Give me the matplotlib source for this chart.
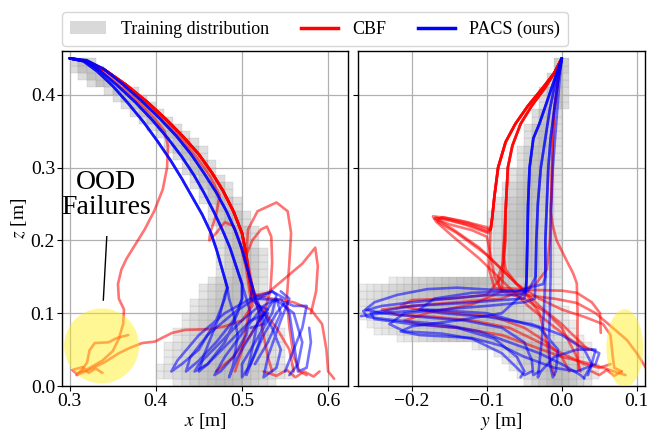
import numpy as np
import matplotlib
matplotlib.use("Agg")
import matplotlib.pyplot as plt
from matplotlib.patches import Ellipse, Patch, Rectangle
from matplotlib.collections import PatchCollection
from matplotlib.lines import Line2D

plt.rcParams['font.family'] = ['Liberation Serif', 'DejaVu Serif']
plt.rcParams['mathtext.fontset'] = 'stix'

# ---------------- data ----------------
legend_labels = ["Training distribution", "CBF", "PACS (ours)"]
x_ticks = [0.3, 0.4, 0.5, 0.6]
y_ticks = [-0.2, -0.1, 0.0, 0.1]
z_ticks = [0.0, 0.1, 0.2, 0.3, 0.4]
cell = 0.01
z_rows = [round(k * 0.01, 2) for k in range(45)]  # lower edge of each z row

# training distribution occupancy (x-range per z row), left panel
left_band_lo = [0.42, 0.40, 0.40, 0.41, 0.41, 0.41, 0.42, 0.42, 0.43, 0.43,
                0.44, 0.44, 0.45, 0.45, 0.46, 0.47, 0.47, 0.47, 0.47, 0.47,
                0.47, 0.47, 0.46, 0.46, 0.46, 0.45, 0.45, 0.44, 0.44, 0.43,
                0.43, 0.42, 0.41, 0.41, 0.40, 0.39, 0.38, 0.37, 0.36, 0.35,
                0.34, 0.32, 0.31, 0.30, 0.30]
left_band_hi = [0.54, 0.56, 0.56, 0.55, 0.55, 0.55, 0.55, 0.55, 0.54, 0.54,
                0.54, 0.54, 0.53, 0.53, 0.53, 0.53, 0.53, 0.53, 0.53, 0.52,
                0.52, 0.52, 0.51, 0.51, 0.50, 0.50, 0.49, 0.49, 0.48, 0.47,
                0.47, 0.46, 0.46, 0.45, 0.44, 0.43, 0.42, 0.41, 0.40, 0.39,
                0.38, 0.36, 0.35, 0.34, 0.33]
# right panel (y-range per z row)
right_band_lo = [-0.05, -0.06, -0.07, -0.08, -0.09, -0.12, -0.22, -0.25, -0.26, -0.27,
                 -0.28, -0.28, -0.28, -0.27, -0.23, -0.10, -0.10, -0.10, -0.10, -0.10,
                 -0.10, -0.10, -0.10, -0.10, -0.09, -0.09, -0.08, -0.08, -0.07, -0.07,
                 -0.06, -0.06, -0.06, -0.05, -0.05, -0.05, -0.04, -0.04, -0.03, -0.03,
                 -0.03, -0.02, -0.02, -0.01, -0.01]
right_band_hi = [0.04, 0.05, 0.05, 0.04, 0.04, 0.04, 0.03, 0.02, 0.02, 0.01,
                 0.01, 0.00, 0.00, 0.00, 0.00, 0.00, 0.00, 0.00, 0.00, 0.00,
                 0.00, 0.00, 0.00, 0.00, 0.00, 0.00, 0.00, 0.00, 0.00, 0.00,
                 0.00, 0.00, 0.00, 0.00, 0.00, 0.00, 0.00, 0.00, 0.01, 0.01,
                 0.01, 0.01, 0.01, 0.01, 0.01]

# ---- PACS trajectories, x-z plane ----
pacs_xz_top_a = [(0.300, 0.450), (0.318, 0.446), (0.335, 0.433), (0.355, 0.413), (0.376, 0.390),
                 (0.396, 0.365), (0.414, 0.340), (0.430, 0.315), (0.444, 0.290), (0.456, 0.265),
                 (0.467, 0.240), (0.477, 0.215), (0.486, 0.190), (0.493, 0.165), (0.500, 0.140)]
pacs_xz_top_b = [(0.300, 0.450), (0.316, 0.446), (0.332, 0.432), (0.350, 0.412), (0.368, 0.388),
                 (0.386, 0.362), (0.402, 0.336), (0.417, 0.310), (0.430, 0.285), (0.442, 0.260),
                 (0.454, 0.235), (0.464, 0.210), (0.471, 0.185), (0.477, 0.160), (0.483, 0.135)]
pacs_xz_top_c = [(0.300, 0.450), (0.320, 0.447), (0.340, 0.435), (0.360, 0.416), (0.382, 0.393),
                 (0.404, 0.368), (0.424, 0.343), (0.441, 0.318), (0.456, 0.292), (0.470, 0.266),
                 (0.482, 0.240), (0.492, 0.214), (0.500, 0.188), (0.506, 0.162), (0.512, 0.136)]
pacs_xz_ends = [
    ("a", [(0.505, 0.120), (0.510, 0.100), (0.505, 0.070), (0.490, 0.040), (0.475, 0.020), (0.468, 0.015),
           (0.480, 0.040), (0.505, 0.080), (0.525, 0.110), (0.540, 0.120), (0.545, 0.100), (0.530, 0.060), (0.515, 0.030)]),
    ("b", [(0.480, 0.120), (0.470, 0.090), (0.450, 0.050), (0.430, 0.030), (0.418, 0.020), (0.425, 0.035),
           (0.450, 0.070), (0.480, 0.100), (0.510, 0.120), (0.535, 0.130), (0.550, 0.120)]),
    ("c", [(0.515, 0.120), (0.520, 0.100), (0.515, 0.070), (0.510, 0.040), (0.505, 0.015), (0.510, 0.030),
           (0.525, 0.070), (0.540, 0.100), (0.550, 0.115), (0.560, 0.110), (0.575, 0.110), (0.570, 0.080),
           (0.560, 0.050), (0.550, 0.020)]),
    ("a", [(0.500, 0.120), (0.495, 0.100), (0.480, 0.060), (0.460, 0.030), (0.445, 0.020), (0.450, 0.030),
           (0.475, 0.060), (0.500, 0.090), (0.520, 0.110), (0.530, 0.105), (0.520, 0.090)]),
    ("b", [(0.485, 0.120), (0.490, 0.100), (0.495, 0.070), (0.490, 0.030), (0.485, 0.012), (0.495, 0.040),
           (0.515, 0.080), (0.535, 0.115), (0.545, 0.120), (0.555, 0.100), (0.560, 0.060), (0.565, 0.020),
           (0.575, 0.025), (0.580, 0.060), (0.578, 0.080)]),
    ("c", [(0.510, 0.120), (0.520, 0.110), (0.525, 0.090), (0.520, 0.060), (0.510, 0.030), (0.500, 0.012),
           (0.500, 0.030), (0.520, 0.070), (0.535, 0.100), (0.540, 0.125), (0.535, 0.130), (0.520, 0.120)]),
    ("a", [(0.500, 0.120), (0.490, 0.090), (0.470, 0.060), (0.450, 0.035), (0.435, 0.020), (0.440, 0.040),
           (0.460, 0.070), (0.490, 0.100), (0.515, 0.120), (0.540, 0.118), (0.560, 0.100), (0.570, 0.060),
           (0.565, 0.030), (0.555, 0.015)]),
    ("b", [(0.480, 0.125), (0.475, 0.100), (0.465, 0.070), (0.455, 0.040), (0.450, 0.020), (0.460, 0.030),
           (0.485, 0.060), (0.510, 0.090), (0.530, 0.100), (0.525, 0.085), (0.510, 0.080)]),
    ("c", [(0.520, 0.110), (0.535, 0.080), (0.545, 0.050), (0.540, 0.025), (0.525, 0.012), (0.530, 0.040),
           (0.545, 0.090), (0.555, 0.120), (0.545, 0.130)]),
]

# ---- CBF trajectories, x-z plane ----
cbf_xz_top_a = [(0.300, 0.450), (0.320, 0.446), (0.342, 0.433), (0.365, 0.414), (0.390, 0.390),
                (0.412, 0.366), (0.432, 0.342), (0.450, 0.318), (0.465, 0.293), (0.478, 0.268),
                (0.490, 0.240), (0.500, 0.210), (0.505, 0.180)]
cbf_xz_top_b = [(0.300, 0.450), (0.318, 0.446), (0.336, 0.433), (0.358, 0.413), (0.380, 0.390),
                (0.398, 0.368), (0.410, 0.350)]
cbf_xz_ends = [
    ("a", [(0.510, 0.150), (0.515, 0.120), (0.520, 0.100), (0.525, 0.070), (0.530, 0.040), (0.535, 0.020)]),
    ("b", [(0.414, 0.330), (0.413, 0.300), (0.408, 0.270), (0.398, 0.240), (0.387, 0.215), (0.376, 0.194),
           (0.366, 0.175), (0.360, 0.160), (0.356, 0.140), (0.357, 0.120), (0.363, 0.105), (0.362, 0.085),
           (0.357, 0.065), (0.350, 0.048), (0.338, 0.035), (0.322, 0.024), (0.308, 0.017), (0.303, 0.022),
           (0.315, 0.026), (0.322, 0.018), (0.330, 0.024), (0.338, 0.018)]),
    ("a", [(0.510, 0.140), (0.512, 0.110), (0.500, 0.090), (0.480, 0.082), (0.462, 0.078), (0.434, 0.077),
           (0.419, 0.073), (0.407, 0.066), (0.399, 0.061), (0.384, 0.059), (0.369, 0.052), (0.357, 0.045),
           (0.341, 0.033), (0.322, 0.022), (0.308, 0.015), (0.314, 0.022), (0.320, 0.032), (0.323, 0.049),
           (0.329, 0.059), (0.345, 0.060), (0.355, 0.066), (0.368, 0.070)]),
    ("a", [(0.507, 0.215), (0.518, 0.240), (0.540, 0.252), (0.553, 0.240), (0.557, 0.210), (0.555, 0.170),
           (0.552, 0.120), (0.555, 0.080), (0.560, 0.040), (0.567, 0.020), (0.575, 0.015)]),
    ("a", [(0.512, 0.200), (0.522, 0.215), (0.529, 0.219), (0.534, 0.205), (0.535, 0.170), (0.533, 0.130),
           (0.525, 0.100), (0.510, 0.070), (0.490, 0.040), (0.470, 0.020)]),
    ("a", [(0.508, 0.150), (0.512, 0.125), (0.535, 0.120), (0.560, 0.115), (0.580, 0.105), (0.593, 0.085),
           (0.598, 0.050), (0.600, 0.020), (0.607, 0.010)]),
    ("a", [(0.508, 0.150), (0.515, 0.125), (0.530, 0.128), (0.550, 0.148), (0.570, 0.168), (0.585, 0.190),
           (0.588, 0.165), (0.586, 0.130), (0.580, 0.100)]),
    ("a", [(0.510, 0.130), (0.520, 0.110), (0.540, 0.080), (0.555, 0.050), (0.560, 0.020)]),
]
cbf_xz_extra = [
    [(0.300, 0.450), (0.320, 0.446), (0.340, 0.434), (0.362, 0.414), (0.386, 0.390), (0.408, 0.366),
     (0.428, 0.342), (0.446, 0.316), (0.462, 0.290), (0.474, 0.262), (0.470, 0.235), (0.463, 0.210),
     (0.462, 0.200), (0.470, 0.210), (0.480, 0.225), (0.490, 0.220), (0.498, 0.195), (0.505, 0.160),
     (0.510, 0.120), (0.505, 0.080), (0.500, 0.050), (0.492, 0.020)],
    [(0.525, 0.020), (0.540, 0.014), (0.552, 0.022), (0.562, 0.012), (0.572, 0.020), (0.583, 0.013),
     (0.590, 0.020)],
]

# ---- PACS trajectories, y-z plane ----
pacs_yz_tops = {
    1: [(0.000, 0.450), (-0.010, 0.420), (-0.020, 0.390), (-0.030, 0.360), (-0.038, 0.340), (-0.043, 0.300),
        (-0.045, 0.250), (-0.046, 0.200), (-0.047, 0.150), (-0.048, 0.130)],
    2: [(0.000, 0.450), (-0.008, 0.420), (-0.016, 0.380), (-0.022, 0.340), (-0.028, 0.300), (-0.032, 0.250),
        (-0.034, 0.200), (-0.035, 0.150)],
    3: [(0.000, 0.450), (-0.005, 0.420), (-0.010, 0.380), (-0.015, 0.340), (-0.018, 0.300), (-0.020, 0.250),
        (-0.022, 0.200), (-0.022, 0.150)],
    4: [(0.000, 0.450), (-0.003, 0.420), (-0.006, 0.380), (-0.009, 0.340), (-0.012, 0.300), (-0.014, 0.250),
        (-0.015, 0.200), (-0.015, 0.150)],
}
pacs_yz_ends = [
    (1, [(-0.060, 0.125), (-0.100, 0.125), (-0.150, 0.120), (-0.200, 0.115), (-0.240, 0.110), (-0.265, 0.103),
         (-0.260, 0.095), (-0.220, 0.090), (-0.160, 0.085), (-0.110, 0.075), (-0.070, 0.060), (-0.030, 0.045),
         (0.000, 0.030), (0.025, 0.015), (0.030, 0.010)]),
    (2, [(-0.045, 0.130), (-0.090, 0.132), (-0.140, 0.135), (-0.180, 0.133), (-0.220, 0.125), (-0.250, 0.115),
         (-0.262, 0.105), (-0.240, 0.100), (-0.190, 0.095), (-0.130, 0.090), (-0.080, 0.080), (-0.050, 0.060),
         (-0.040, 0.035), (-0.038, 0.015), (-0.030, 0.020)]),
    (3, [(-0.024, 0.100), (-0.027, 0.060), (-0.030, 0.030), (-0.032, 0.012), (-0.028, 0.020), (-0.010, 0.040),
         (0.020, 0.050), (0.045, 0.050), (0.040, 0.030), (0.030, 0.012)]),
    (4, [(-0.016, 0.100), (-0.017, 0.060), (-0.016, 0.030), (-0.012, 0.012), (-0.008, 0.020), (-0.005, 0.050),
         (-0.030, 0.080), (-0.100, 0.100), (-0.180, 0.105), (-0.240, 0.100), (-0.268, 0.096)]),
    (2, [(-0.036, 0.120), (-0.050, 0.115), (-0.100, 0.110), (-0.160, 0.105), (-0.210, 0.100), (-0.230, 0.085),
         (-0.210, 0.075), (-0.160, 0.072), (-0.120, 0.065), (-0.080, 0.045), (-0.060, 0.025), (-0.050, 0.015),
         (-0.040, 0.020)]),
    (1, [(-0.050, 0.120), (-0.080, 0.118), (-0.130, 0.114), (-0.200, 0.110), (-0.255, 0.100), (-0.250, 0.092),
         (-0.200, 0.085), (-0.140, 0.080), (-0.090, 0.065), (-0.060, 0.040), (-0.050, 0.020), (-0.055, 0.012)]),
    (3, [(-0.025, 0.140), (-0.060, 0.130), (-0.120, 0.128), (-0.170, 0.120), (-0.190, 0.105), (-0.160, 0.100),
         (-0.100, 0.095), (-0.040, 0.085), (0.000, 0.070), (0.030, 0.050), (0.040, 0.030), (0.035, 0.015)]),
    (1, [(-0.080, 0.100), (-0.140, 0.090), (-0.200, 0.082), (-0.215, 0.075), (-0.190, 0.070), (-0.120, 0.066),
         (-0.080, 0.055), (-0.050, 0.040), (-0.010, 0.025), (0.020, 0.020), (0.045, 0.030), (0.050, 0.045),
         (0.040, 0.050)]),
]

# ---- CBF trajectories, y-z plane ----
cbf_yz_tops = {
    "a": [(0.000, 0.450), (-0.010, 0.430), (-0.025, 0.410), (-0.045, 0.385), (-0.062, 0.360), (-0.075, 0.335),
          (-0.085, 0.300), (-0.090, 0.260), (-0.093, 0.230), (-0.095, 0.215)],
    "b": [(0.000, 0.450), (-0.010, 0.430), (-0.022, 0.410), (-0.040, 0.385), (-0.055, 0.360), (-0.066, 0.330),
          (-0.072, 0.300), (-0.074, 0.260), (-0.075, 0.240)],
    "c": [(0.000, 0.450), (-0.005, 0.420), (-0.010, 0.380), (-0.012, 0.340), (-0.013, 0.300), (-0.014, 0.260),
          (-0.015, 0.240)],
}
cbf_yz_ends = [
    ("a", [(-0.100, 0.212), (-0.120, 0.220), (-0.150, 0.228), (-0.168, 0.231), (-0.165, 0.225), (-0.140, 0.210),
           (-0.100, 0.180), (-0.060, 0.140), (-0.030, 0.110), (0.000, 0.085), (0.020, 0.065), (0.035, 0.050)]),
    ("a", [(-0.100, 0.215), (-0.125, 0.224), (-0.155, 0.231), (-0.172, 0.233), (-0.168, 0.226), (-0.145, 0.205),
           (-0.110, 0.175), (-0.075, 0.140), (-0.045, 0.110), (-0.015, 0.085), (0.010, 0.065), (0.025, 0.055),
           (0.040, 0.050)]),
    ("a", [(-0.098, 0.210), (-0.130, 0.222), (-0.160, 0.230), (-0.170, 0.230), (-0.150, 0.222), (-0.120, 0.214),
           (-0.100, 0.205), (-0.095, 0.180), (-0.090, 0.150), (-0.080, 0.130), (-0.050, 0.120), (-0.020, 0.100),
           (0.000, 0.080), (0.010, 0.060), (0.020, 0.040), (0.025, 0.020)]),
    ("c", [(-0.012, 0.220), (-0.007, 0.200), (0.006, 0.173), (0.015, 0.155), (0.020, 0.141), (0.021, 0.100),
           (0.021, 0.060), (0.022, 0.022)]),
    ("b", [(-0.075, 0.200), (-0.078, 0.170), (-0.085, 0.150), (-0.083, 0.135), (-0.040, 0.132), (0.000, 0.131),
           (0.020, 0.128), (0.040, 0.115), (0.051, 0.100), (0.052, 0.073)]),
    ("a", [(-0.096, 0.190), (-0.097, 0.160), (-0.090, 0.135), (-0.050, 0.125), (-0.010, 0.120), (0.020, 0.114),
           (0.045, 0.100), (0.060, 0.087), (0.087, 0.063), (0.100, 0.045), (0.108, 0.032), (0.112, 0.025)]),
    ("b", [(-0.076, 0.210), (-0.078, 0.180), (-0.075, 0.160), (-0.060, 0.140), (-0.030, 0.120), (0.000, 0.105),
           (0.030, 0.095), (0.055, 0.085), (0.065, 0.070), (0.068, 0.040), (0.070, 0.025), (0.080, 0.020)]),
    ("c", [(-0.016, 0.200), (-0.020, 0.160), (-0.035, 0.140), (-0.080, 0.120), (-0.140, 0.115), (-0.200, 0.110),
           (-0.240, 0.105), (-0.220, 0.098), (-0.170, 0.095), (-0.120, 0.090), (-0.070, 0.080), (-0.030, 0.060),
           (0.000, 0.045), (0.030, 0.030), (0.050, 0.025), (0.065, 0.030)]),
    ("b", [(-0.076, 0.200), (-0.078, 0.160), (-0.080, 0.130), (-0.120, 0.112), (-0.180, 0.100), (-0.210, 0.090),
           (-0.190, 0.085), (-0.140, 0.080), (-0.080, 0.070), (-0.040, 0.055), (0.000, 0.040), (0.040, 0.030),
           (0.070, 0.020), (0.085, 0.015)]),
    ("a", [(-0.100, 0.218), (-0.130, 0.226), (-0.160, 0.232), (-0.165, 0.228), (-0.145, 0.215), (-0.110, 0.190),
           (-0.080, 0.160), (-0.050, 0.130), (-0.030, 0.100), (-0.020, 0.060), (-0.015, 0.030), (-0.010, 0.015)]),
    ("b", [(-0.078, 0.190), (-0.080, 0.150), (-0.100, 0.125), (-0.150, 0.120), (-0.200, 0.118), (-0.215, 0.110),
           (-0.190, 0.105), (-0.140, 0.100), (-0.090, 0.095), (-0.050, 0.080), (-0.020, 0.060), (0.000, 0.040),
           (0.010, 0.020)]),
]
cbf_yz_extra = [
    [(0.040, 0.020), (0.050, 0.015), (0.060, 0.022), (0.070, 0.014), (0.080, 0.020)],
]

# OOD highlight regions (center, width, height) and annotation
ood_left = ((0.337, 0.055), 0.087, 0.103)
ood_right = ((0.084, 0.052), 0.049, 0.107)
ood_text = "OOD\nFailures"
ood_text_pos = (0.342, 0.262)
ood_line = [(0.343, 0.205), (0.339, 0.118)]

# ---------------- plotting ----------------
RED = "#ff0000"
BLUE = "#0000ff"
LW = 1.9
ALPHA = 0.55

fig = plt.figure(figsize=(6.47, 4.30), dpi=100)
axL = fig.add_axes([0.0958, 0.1023, 0.442, 0.779])
axR = fig.add_axes([0.5533, 0.1023, 0.4436, 0.779], sharey=axL)


def draw_band(ax, lo_list, hi_list):
    patches, colors = [], []
    for z0, lo, hi in zip(z_rows, lo_list, hi_list):
        n = int(round((hi - lo) / cell))
        if n <= 0:
            continue
        mid = (lo + hi) / 2
        half = (hi - lo) / 2
        for i in range(n):
            c0 = lo + i * cell
            cc = c0 + cell / 2
            t = abs(cc - mid) / (half + 1e-9)
            g = 0.935 - 0.19 * (1 - t ** 1.6)
            patches.append(Rectangle((c0, z0), cell, cell))
            colors.append((g, g, g))
    pc = PatchCollection(patches, facecolors=colors, edgecolors=(0.55, 0.55, 0.55, 0.35),
                         linewidths=0.35, zorder=0.8)
    ax.add_collection(pc)


def plot_traj(ax, pts, color):
    a = [p[0] for p in pts]
    z = [p[1] for p in pts]
    ax.plot(a, z, color=color, lw=LW, alpha=ALPHA, solid_capstyle='round',
            solid_joinstyle='round', zorder=2)


draw_band(axL, left_band_lo, left_band_hi)
draw_band(axR, right_band_lo, right_band_hi)

pacs_xz_tops = {"a": pacs_xz_top_a, "b": pacs_xz_top_b, "c": pacs_xz_top_c}
cbf_xz_tops = {"a": cbf_xz_top_a, "b": cbf_xz_top_b}

for key, end in cbf_xz_ends:
    plot_traj(axL, cbf_xz_tops[key] + end, RED)
for tr in cbf_xz_extra:
    plot_traj(axL, tr, RED)
for key, end in pacs_xz_ends:
    plot_traj(axL, pacs_xz_tops[key] + end, BLUE)

for key, end in cbf_yz_ends:
    plot_traj(axR, cbf_yz_tops[key] + end, RED)
for tr in cbf_yz_extra:
    plot_traj(axR, tr, RED)
for key, end in pacs_yz_ends:
    plot_traj(axR, pacs_yz_tops[key] + end, BLUE)

for ax, (cen, w, h) in ((axL, ood_left), (axR, ood_right)):
    ax.add_patch(Ellipse(cen, w, h, facecolor="#ffee11", edgecolor="none", alpha=0.45, zorder=3))

axL.text(ood_text_pos[0], ood_text_pos[1], ood_text, ha="center", va="center",
         fontsize=20, linespacing=1.0, zorder=4)
axL.plot([p[0] for p in ood_line], [p[1] for p in ood_line], color="black", lw=1.0, zorder=4)

axL.set_xlim(0.291, 0.623)
axR.set_xlim(-0.272, 0.111)
axL.set_ylim(0.0, 0.46)
axL.set_xticks(x_ticks)
axR.set_xticks(y_ticks)
axL.set_yticks(z_ticks)
axL.set_xticklabels([f"{v:.1f}" for v in x_ticks])
axR.set_xticklabels([f"{v:.1f}".replace("-", "\u2212") for v in y_ticks])
axL.set_yticklabels([f"{v:.1f}" for v in z_ticks])
plt.setp(axR.get_yticklabels(), visible=False)

for ax in (axL, axR):
    ax.grid(True, color="#b0b0b0", lw=0.9)
    ax.tick_params(labelsize=14, length=3.5, pad=1.5)
    for s in ax.spines.values():
        s.set_linewidth(1.0)

axL.set_xlabel("$x$ [m]", fontsize=14, labelpad=1)
axR.set_xlabel("$y$ [m]", fontsize=14, labelpad=1)
axL.set_ylabel("$z$ [m]", fontsize=14, labelpad=1)

handles = [Patch(facecolor="#d9d9d9", edgecolor="none"),
           Line2D([], [], color=RED, lw=2.5),
           Line2D([], [], color=BLUE, lw=2.5)]
fig.legend(handles, legend_labels, loc="upper center", bbox_to_anchor=(0.487, 0.992),
           ncol=3, fontsize=13, frameon=True, fancybox=True, edgecolor="#cccccc",
           handlelength=2.0, columnspacing=1.8, handletextpad=0.8, borderpad=0.45)

fig.savefig("out.png", dpi=100)
